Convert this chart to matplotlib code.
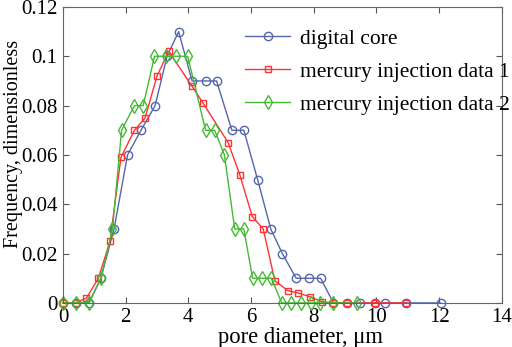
import numpy as np
import matplotlib.pyplot as plt

plt.rcParams['font.family'] = ['Liberation Serif', 'DejaVu Serif']

# digital core
core_x = [0, 0.41, 0.83, 1.21, 1.63, 2.06, 2.49, 2.94, 3.32, 3.69, 4.12, 4.55,
          4.9, 5.39, 5.77, 6.21, 6.63, 7.0, 7.44, 7.84, 8.22, 8.63, 9.06, 9.49,
          9.94, 10.29, 10.93, 12.05]
core_y = [0, 0, 0, 0.01, 0.03, 0.06, 0.07, 0.08, 0.10, 0.11, 0.09, 0.09,
          0.09, 0.07, 0.07, 0.05, 0.03, 0.02, 0.01, 0.01, 0.01, 0, 0, 0,
          0, 0, 0, 0]

# mercury injection data 1
hg1_x = [0, 0.41, 0.75, 1.13, 1.50, 1.85, 2.28, 2.62, 3.0, 3.37, 4.11, 4.47,
         5.27, 5.64, 6.04, 6.39, 6.76, 7.17, 7.51, 7.88, 8.26, 8.63, 9.06,
         9.94, 10.93]
hg1_y = [0, 0, 0.002, 0.01, 0.025, 0.059, 0.07, 0.075, 0.092, 0.102, 0.088,
         0.081, 0.065, 0.052, 0.035, 0.03, 0.009, 0.005, 0.004, 0.0025, 0.0005,
         0, 0, 0, 0]

# mercury injection data 2
hg2_x = [0, 0.41, 0.83, 1.21, 1.58, 1.87, 2.28, 2.56, 2.92, 3.29, 3.61, 3.98,
         4.55, 4.84, 5.15, 5.48, 5.77, 6.05, 6.34, 6.65, 6.98, 7.28, 7.60,
         7.90, 8.20, 8.63, 9.38]
hg2_y = [0, 0, 0, 0.01, 0.03, 0.07, 0.08, 0.08, 0.10, 0.10, 0.10, 0.10,
         0.07, 0.07, 0.06, 0.03, 0.03, 0.01, 0.01, 0.01, 0, 0, 0,
         0, 0, 0, 0]

xticks = [0, 2, 4, 6, 8, 10, 12, 14]
yticks = [0, 0.02, 0.04, 0.06, 0.08, 0.1, 0.12]
ytick_labels = ['0', '0.02', '0.04', '0.06', '0.08', '0.1', '0.12']

fig = plt.figure(figsize=(5.12, 3.47), dpi=100)
ax = fig.add_axes([0.123, 0.127, 0.857, 0.853])

ax.plot(core_x, core_y, '-o', color='#5466ad', mfc='none', ms=6, lw=1,
        mew=1, label='digital core', clip_on=False)
ax.plot(hg1_x, hg1_y, '-s', color='#ff3333', mfc='none', ms=5, lw=1,
        mew=1, label='mercury injection data 1', clip_on=False)
ax.plot(hg2_x, hg2_y, '-d', color='#44bb33', mfc='none', ms=7, lw=1,
        mew=1, label='mercury injection data 2', clip_on=False)

ax.set_xlim(0, 14)
ax.set_ylim(0, 0.12)
ax.set_xticks(xticks)
ax.set_yticks(yticks)
ax.set_yticklabels(ytick_labels)
ax.tick_params(direction='in', top=True, right=True, labelsize=15,
               length=4, color='#555555')
ax.tick_params(axis='x', pad=4)
ax.tick_params(axis='y', pad=4)
for sp in ax.spines.values():
    sp.set_color('#666666')

ax.set_xlabel('pore diameter, μm', fontsize=16.3)
ax.xaxis.set_label_coords(0.542, -0.083)
ax.set_ylabel('Frequency, dimensionless', fontsize=14.5)
ax.yaxis.set_label_coords(-0.092, 0.537)

ax.legend(loc='upper left', bbox_to_anchor=(0.415, 0.927), frameon=False,
          fontsize=15.5, handlelength=2.1, labelspacing=0.6,
          borderaxespad=0, borderpad=0, handletextpad=0.45)

fig.savefig('out.png', dpi=100)
